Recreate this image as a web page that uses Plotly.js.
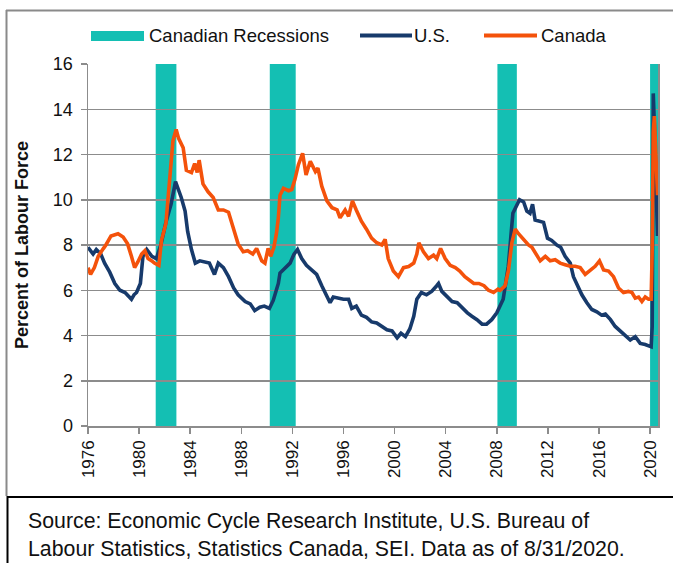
<!DOCTYPE html>
<html>
<head>
<meta charset="utf-8">
<script src="https://cdn.plot.ly/plotly-3.0.1.min.js"></script>
<style>
  html, body { margin: 0; padding: 0; background: #ffffff; }
  #chart { width: 673px; height: 563px; }
</style>
</head>
<body>
<div id="chart"></div>
<script>
// ---------------- DATA ----------------
const recessionStart = [1981.30, 1990.23, 2008.05, 2020.00];
const recessionEnd   = [1982.92, 1992.26, 2009.57, 2020.62];

const usYears = [1976.0,1976.4,1976.65,1977.0,1977.3,1977.7,1978.1,1978.5,1978.9,1979.1,1979.4,1979.6,1979.8,1980.1,1980.3,1980.6,1981.0,1981.35,1981.7,1982.1,1982.5,1982.85,1983.0,1983.3,1983.6,1983.8,1984.1,1984.4,1984.75,1985.1,1985.5,1985.9,1986.2,1986.6,1987.0,1987.4,1987.75,1988.3,1988.7,1989.05,1989.45,1989.8,1990.2,1990.5,1990.9,1991.03,1991.43,1991.82,1992.13,1992.4,1992.73,1993.1,1993.5,1993.9,1994.3,1994.7,1994.95,1995.2,1995.6,1996.0,1996.4,1996.65,1997.0,1997.4,1997.8,1998.2,1998.6,1999.0,1999.4,1999.8,2000.2,2000.5,2000.85,2001.2,2001.5,2001.74,2002.1,2002.5,2002.9,2003.3,2003.44,2003.7,2004.1,2004.5,2004.9,2005.3,2005.7,2006.05,2006.45,2006.85,2007.2,2007.6,2008.0,2008.5,2008.9,2009.26,2009.57,2009.78,2010.1,2010.35,2010.6,2010.8,2011.0,2011.4,2011.66,2011.97,2012.3,2012.7,2013.0,2013.35,2013.75,2014.0,2014.27,2014.66,2015.05,2015.44,2015.83,2016.2,2016.5,2016.9,2017.27,2017.66,2018.05,2018.45,2018.84,2019.23,2019.62,2019.96,2020.083,2020.167,2020.25,2020.333,2020.417,2020.5,2020.583];
const usRate = [7.9,7.6,7.8,7.6,7.2,6.8,6.3,6.0,5.9,5.8,5.6,5.8,5.9,6.3,7.5,7.8,7.5,7.4,8.0,9.0,9.8,10.8,10.6,10.1,9.5,8.6,7.8,7.2,7.3,7.25,7.2,6.7,7.2,7.0,6.6,6.1,5.8,5.5,5.4,5.1,5.25,5.3,5.2,5.55,6.3,6.76,7.0,7.2,7.6,7.8,7.4,7.1,6.9,6.7,6.2,5.7,5.45,5.7,5.65,5.6,5.6,5.2,5.3,4.9,4.8,4.6,4.55,4.4,4.25,4.2,3.9,4.1,3.95,4.3,4.85,5.6,5.9,5.8,5.95,6.2,6.3,5.95,5.7,5.5,5.45,5.2,5.0,4.85,4.7,4.5,4.5,4.7,5.0,5.6,7.05,9.4,9.8,10.0,9.9,9.5,9.4,9.8,9.1,9.05,9.0,8.3,8.2,8.0,7.9,7.5,7.2,6.6,6.25,5.8,5.45,5.15,5.05,4.9,4.95,4.7,4.4,4.2,4.05,3.8,3.95,3.65,3.6,3.5,3.5,4.4,14.7,13.3,11.1,10.2,8.4];

const caYears = [1976.0,1976.2,1976.5,1976.8,1977.2,1977.4,1977.8,1978.35,1978.75,1979.1,1979.4,1979.65,1979.9,1980.2,1980.45,1980.7,1981.0,1981.2,1981.55,1981.75,1982.1,1982.4,1982.65,1982.9,1983.1,1983.45,1983.7,1984.1,1984.35,1984.55,1984.7,1985.0,1985.4,1985.8,1986.2,1986.6,1987.0,1987.35,1987.75,1988.15,1988.5,1988.9,1989.2,1989.6,1989.85,1990.1,1990.3,1990.55,1990.75,1990.9,1991.03,1991.3,1991.7,1991.95,1992.2,1992.47,1992.8,1993.07,1993.4,1993.8,1994.0,1994.3,1994.7,1995.1,1995.5,1995.73,1996.13,1996.4,1996.7,1997.0,1997.4,1997.8,1998.2,1998.6,1999.0,1999.26,1999.5,1999.9,2000.3,2000.7,2001.1,2001.5,2001.74,2001.9,2002.26,2002.65,2003.05,2003.3,2003.6,2003.96,2004.35,2004.75,2005.1,2005.5,2005.9,2006.2,2006.6,2007.0,2007.35,2007.75,2008.1,2008.26,2008.65,2008.92,2009.18,2009.44,2009.7,2010.1,2010.48,2010.75,2011.0,2011.4,2011.8,2012.18,2012.57,2012.96,2013.35,2013.75,2014.14,2014.53,2014.92,2015.31,2015.7,2016.04,2016.36,2016.75,2017.14,2017.53,2017.92,2018.3,2018.58,2018.84,2019.1,2019.36,2019.62,2019.88,2020.0,2020.083,2020.167,2020.25,2020.333,2020.417,2020.5,2020.583];
const caRate = [7.0,6.7,7.0,7.5,7.84,8.0,8.4,8.5,8.35,8.05,7.5,7.0,7.25,7.6,7.75,7.4,7.3,7.2,7.1,8.2,8.95,11.0,12.6,13.1,12.7,12.3,11.3,11.2,11.6,11.2,11.75,10.7,10.35,10.1,9.55,9.55,9.45,8.8,8.05,7.7,7.75,7.6,7.85,7.3,7.2,7.85,7.5,7.9,8.5,9.2,10.2,10.5,10.4,10.45,10.9,11.55,12.05,11.1,11.7,11.25,11.4,10.6,9.95,9.65,9.55,9.2,9.55,9.27,9.95,9.55,9.05,8.7,8.3,8.1,8.0,8.25,7.4,6.85,6.6,7.0,7.05,7.2,7.6,8.1,7.7,7.4,7.55,7.4,7.85,7.4,7.1,7.0,6.85,6.6,6.4,6.3,6.3,6.2,6.0,5.9,6.05,6.0,6.2,6.9,8.1,8.7,8.5,8.25,8.0,7.9,7.65,7.3,7.5,7.3,7.35,7.2,7.13,7.06,7.06,7.0,6.7,6.9,7.06,7.3,6.9,6.85,6.6,6.1,5.9,5.95,5.9,5.65,5.7,5.5,5.7,5.6,5.6,5.6,7.8,13.0,13.7,12.3,10.9,10.2];

const xTickVals = [1976,1980,1984,1988,1992,1996,2000,2004,2008,2012,2016,2020];
const xTickText = ["1976","1980","1984","1988","1992","1996","2000","2004","2008","2012","2016","2020"];
const yTickVals = [0,2,4,6,8,10,12,14,16];

const legendLabels = ["Canadian Recessions", "U.S.", "Canada"];
const yTitle = "Percent of Labour Force";
const sourceText = "Source: Economic Cycle Research Institute, U.S. Bureau of<br>Labour Statistics, Statistics Canada, SEI. Data as of 8/31/2020.";

// ---------------- STYLE ----------------
const TEAL = '#14bfb3', NAVY = '#173a6b', ORANGE = '#f4520b', GRID = '#8c8c8c';
const FONT = 'Liberation Sans, Arial, sans-serif';

// plot-area pixel geometry
const Lp = 88, Rp = 658, Tp = 64, Bp = 426;
const px = p => (p - Lp) / (Rp - Lp);
const py = p => (Bp - p) / (Bp - Tp);

const traces = [
  { x: usYears, y: usRate, type: 'scatter', mode: 'lines', name: legendLabels[1],
    line: { color: NAVY, width: 3.6 }, hoverinfo: 'skip' },
  { x: caYears, y: caRate, type: 'scatter', mode: 'lines', name: legendLabels[2],
    line: { color: ORANGE, width: 3.6 }, hoverinfo: 'skip' }
];

const shapes = [];
recessionStart.forEach((s, i) => {
  shapes.push({ type: 'rect', xref: 'x', yref: 'paper', x0: s, x1: recessionEnd[i], y0: 0, y1: 1,
    fillcolor: TEAL, line: { width: 0 }, layer: 'below' });
});
// legend symbols
shapes.push({ type: 'rect', xref: 'paper', yref: 'paper', x0: px(91), x1: px(144), y0: py(41), y1: py(31),
  fillcolor: TEAL, line: { width: 0 } });
shapes.push({ type: 'line', xref: 'paper', yref: 'paper', x0: px(360), x1: px(412), y0: py(35.5), y1: py(35.5),
  line: { color: NAVY, width: 4 } });
shapes.push({ type: 'line', xref: 'paper', yref: 'paper', x0: px(484), x1: px(537), y0: py(35.5), y1: py(35.5),
  line: { color: ORANGE, width: 4 } });
// outer frames
shapes.push({ type: 'line', xref: 'paper', yref: 'paper', x0: px(6), x1: px(680), y0: py(10.5), y1: py(10.5),
  line: { color: '#8a8a8a', width: 2 } });
shapes.push({ type: 'line', xref: 'paper', yref: 'paper', x0: px(6.5), x1: px(6.5), y0: py(10), y1: py(496),
  line: { color: '#8a8a8a', width: 2 } });
shapes.push({ type: 'line', xref: 'paper', yref: 'paper', x0: px(7), x1: px(680), y0: py(497), y1: py(497),
  line: { color: '#000000', width: 2 } });
shapes.push({ type: 'line', xref: 'paper', yref: 'paper', x0: px(7.5), x1: px(7.5), y0: py(496), y1: py(570),
  line: { color: '#000000', width: 2 } });

const annotations = [
  { text: legendLabels[0], xref: 'paper', yref: 'paper', x: px(147), y: py(36), xanchor: 'left', yanchor: 'middle',
    showarrow: false, font: { family: FONT, size: 18.5, color: '#111' } },
  { text: legendLabels[1], xref: 'paper', yref: 'paper', x: px(412), y: py(36), xanchor: 'left', yanchor: 'middle',
    showarrow: false, font: { family: FONT, size: 18.5, color: '#111' } },
  { text: legendLabels[2], xref: 'paper', yref: 'paper', x: px(539), y: py(36), xanchor: 'left', yanchor: 'middle',
    showarrow: false, font: { family: FONT, size: 18.5, color: '#111' } },
  { text: sourceText, xref: 'paper', yref: 'paper', x: px(26), y: py(507), xanchor: 'left', yanchor: 'top',
    align: 'left', showarrow: false, font: { family: FONT, size: 21.3, color: '#111' } }
];

const layout = {
  width: 673, height: 563,
  margin: { l: Lp, r: 673 - Rp, t: Tp, b: 563 - Bp, pad: 0 },
  paper_bgcolor: '#ffffff', plot_bgcolor: '#ffffff',
  showlegend: false,
  font: { family: FONT, color: '#111' },
  xaxis: {
    type: 'linear', range: [1976, 2020.62], fixedrange: true,
    tickmode: 'array', tickvals: xTickVals, ticktext: xTickText, tickangle: -90,
    ticks: 'outside', ticklen: 6, tickwidth: 1.5, tickcolor: GRID,
    showline: true, linecolor: GRID, linewidth: 1.5, mirror: false,
    showgrid: false, zeroline: false,
    tickfont: { family: FONT, size: 17, color: '#111' }
  },
  yaxis: {
    range: [0, 16], fixedrange: true,
    tickmode: 'array', tickvals: yTickVals,
    ticks: 'outside', ticklen: 6, tickwidth: 1.5, tickcolor: GRID,
    ticklabelstandoff: 4,
    showline: true, linecolor: GRID, linewidth: 1.5, mirror: true,
    showgrid: true, gridcolor: GRID, gridwidth: 1.5, zeroline: false,
    tickfont: { family: FONT, size: 18, color: '#111' },
    title: { text: '<b>' + yTitle + '</b>', standoff: 19, font: { family: FONT, size: 18, color: '#111' } }
  },
  shapes: shapes,
  annotations: annotations
};

Plotly.newPlot('chart', traces, layout, { displayModeBar: false, staticPlot: true });
</script>
</body>
</html>
